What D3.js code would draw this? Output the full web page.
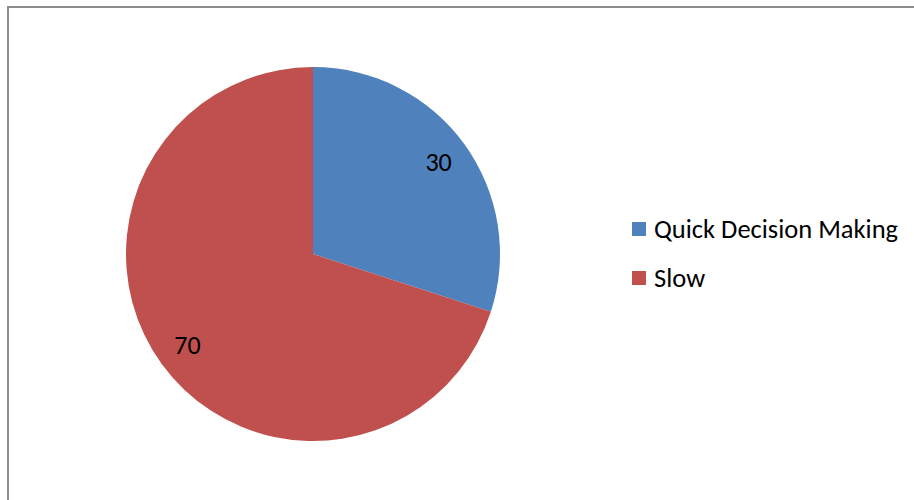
<!DOCTYPE html>
<html>
<head>
<meta charset="utf-8">
<script src="https://cdn.jsdelivr.net/npm/d3@7"></script>
<style>
  html, body { margin: 0; padding: 0; background: #fff; }
  svg { display: block; }
  text { font-family: Carlito, "Open Sans", "Liberation Sans", sans-serif; fill: #000; }
</style>
</head>
<body>
<svg id="chart" width="914" height="500"></svg>
<script>
// Decision-making speed shares
const categories = ["Quick Decision Making", "Slow"];
const values = [30, 70];
const colors = ["#4F81BD", "#C0504D"];

const svg = d3.select("#chart");
const W = 914, H = 500;

// chart area frame
svg.append("rect")
  .attr("x", 8).attr("y", 7)
  .attr("width", W + 10).attr("height", H + 10)
  .attr("fill", "#fff")
  .attr("stroke", "#8c8c8c")
  .attr("stroke-width", 2);

const cx = 313, cy = 254, r = 187;

const pie = d3.pie().sort(null).value(d => d)
  .startAngle(0).endAngle(2 * Math.PI);
const arcs = pie(values);

const arc = d3.arc().innerRadius(0).outerRadius(r);
const labelArc = d3.arc().innerRadius(r * 0.83).outerRadius(r * 0.83);

const g = svg.append("g").attr("transform", `translate(${cx},${cy})`);

g.selectAll("path.slice")
  .data(arcs)
  .join("path")
  .attr("class", "slice")
  .attr("d", arc)
  .attr("fill", (d, i) => colors[i]);

g.selectAll("text.value")
  .data(arcs)
  .join("text")
  .attr("class", "value")
  .attr("transform", d => `translate(${labelArc.centroid(d)})`)
  .attr("text-anchor", "middle")
  .attr("dy", "0.33em")
  .attr("font-size", 26)
  .text(d => d.data);

// legend
const legend = svg.append("g").attr("transform", "translate(632,229)");
const items = legend.selectAll("g.item")
  .data(categories)
  .join("g")
  .attr("class", "item")
  .attr("transform", (d, i) => `translate(0,${i * 49})`);

items.append("rect")
  .attr("x", 0).attr("y", -7)
  .attr("width", 14).attr("height", 14)
  .attr("fill", (d, i) => colors[i]);

items.append("text")
  .attr("x", 22).attr("y", 0)
  .attr("dy", "0.33em")
  .attr("font-size", 26.5)
  .text(d => d);
</script>
</body>
</html>
